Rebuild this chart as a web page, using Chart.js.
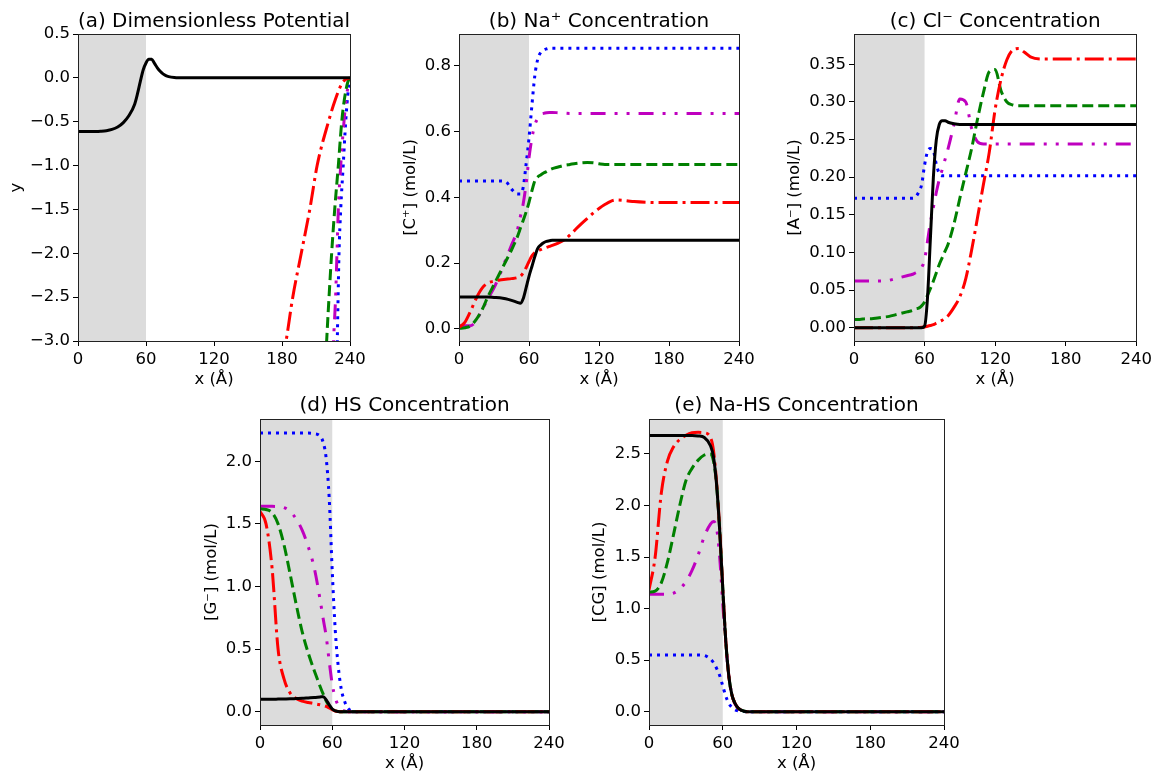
<!DOCTYPE html>
<html>
<head>
<meta charset="utf-8">
<script src="https://cdn.jsdelivr.net/npm/chart.js@4.4.1/dist/chart.umd.min.js"></script>
<style>
  html, body { margin: 0; padding: 0; background: #fff; overflow: hidden; }
  body { width: 1156px; height: 772px; position: relative; }
  canvas { position: absolute; }
</style>
</head>
<body>
<canvas id="pa"></canvas>
<canvas id="pb"></canvas>
<canvas id="pc"></canvas>
<canvas id="pd"></canvas>
<canvas id="pe"></canvas>
<script>
// shared x positions (Å)
const xGrid = [0, 5, 10, 15, 20, 25, 30, 35, 40, 45,
  50, 52.5, 55, 57.5, 60, 62.5, 65, 67.5, 70, 72.5, 75, 77.5, 80,
  85, 90, 95, 100, 105, 110, 115, 120, 125, 130, 135, 140, 145, 150,
  160, 180, 200, 220, 240];
const xTicks = [0, 60, 120, 180, 240];
const shadeRange = [0, 60];

// (a) dimensionless potential
const potBlack = [-0.612, -0.612, -0.612, -0.611, -0.608, -0.602, -0.588, -0.56, -0.51, -0.43,
  -0.3, -0.18, -0.04, 0.09, 0.17, 0.213, 0.212, 0.165, 0.115, 0.075, 0.045, 0.025, 0.014,
  0.004, 0.001, 0, 0, 0, 0, 0, 0, 0, 0, 0, 0, 0, 0,
  0, 0, 0, 0, 0];
const potRedX = [175, 183.6, 189.5, 197, 204.5, 211, 221, 227, 233, 236, 240];
const potRedY = [-3.6, -3.0, -2.5, -2.0, -1.5, -1.0, -0.5, -0.25, -0.06, -0.02, 0];
const potGreenX = [218, 219.4, 221.5, 223.8, 226.5, 229.7, 232.7, 235, 238, 240];
const potGreenY = [-3.4, -3.0, -2.5, -2.0, -1.5, -1.0, -0.5, -0.25, -0.05, 0];
const potMagX = [224.8, 225.5, 227.3, 228.5, 229.7, 231.8, 234.7, 237, 240];
const potMagY = [-3.3, -3.0, -2.5, -2.0, -1.5, -1.0, -0.5, -0.2, 0];
const potBlueX = [228.5, 228.8, 229.5, 230.3, 231.8, 234, 236.2, 238, 240];
const potBlueY = [-3.3, -3.0, -2.5, -2.0, -1.5, -1.0, -0.5, -0.2, 0];
const potTicks = [-3, -2.5, -2, -1.5, -1, -0.5, 0, 0.5];

// (b) Na+ concentration
const naBlack = [0.097, 0.097, 0.097, 0.097, 0.097, 0.097, 0.096, 0.095, 0.092, 0.087,
  0.081, 0.078, 0.092, 0.125, 0.16, 0.19, 0.22, 0.245, 0.255, 0.262, 0.266, 0.268, 0.27,
  0.27, 0.27, 0.27, 0.27, 0.27, 0.27, 0.27, 0.27, 0.27, 0.27, 0.27, 0.27, 0.27, 0.27,
  0.27, 0.27, 0.27, 0.27, 0.27];
const naRed = [0.005, 0.02, 0.055, 0.095, 0.125, 0.14, 0.145, 0.149, 0.151, 0.153,
  0.156, 0.16, 0.17, 0.186, 0.205, 0.222, 0.232, 0.238, 0.241, 0.245, 0.248, 0.251, 0.254,
  0.261, 0.27, 0.285, 0.303, 0.32, 0.336, 0.352, 0.366, 0.378, 0.388, 0.392, 0.391, 0.389, 0.387,
  0.385, 0.384, 0.384, 0.384, 0.384];
const naGreen = [0.002, 0.004, 0.01, 0.03, 0.06, 0.1, 0.135, 0.17, 0.205, 0.24,
  0.28, 0.305, 0.33, 0.355, 0.385, 0.42, 0.45, 0.462, 0.468, 0.474, 0.478, 0.483, 0.487,
  0.492, 0.497, 0.5, 0.503, 0.505, 0.506, 0.505, 0.502, 0.5, 0.5, 0.5, 0.5, 0.5, 0.5,
  0.5, 0.5, 0.5, 0.5, 0.5];
const naMag = [0.01, 0.01, 0.01, 0.027, 0.06, 0.093, 0.125, 0.165, 0.21, 0.255,
  0.3, 0.34, 0.38, 0.44, 0.52, 0.58, 0.62, 0.64, 0.652, 0.655, 0.657, 0.658, 0.658,
  0.657, 0.656, 0.655, 0.655, 0.655, 0.655, 0.655, 0.655, 0.655, 0.655, 0.655, 0.655, 0.655, 0.655,
  0.655, 0.655, 0.655, 0.655, 0.655];
const naBlue = [0.45, 0.45, 0.45, 0.45, 0.45, 0.45, 0.45, 0.45, 0.448, 0.425,
  0.41, 0.41, 0.43, 0.5, 0.58, 0.68, 0.77, 0.82, 0.84, 0.848, 0.851, 0.853, 0.853,
  0.853, 0.853, 0.853, 0.853, 0.853, 0.853, 0.853, 0.853, 0.853, 0.853, 0.853, 0.853, 0.853, 0.853,
  0.853, 0.853, 0.853, 0.853, 0.853];
const naTicks = [0, 0.2, 0.4, 0.6, 0.8];

// (c) Cl- concentration
const clBlack = [0, 0, 0, 0, 0, 0, 0, 0, 0, 0,
  0, 0, 0, 0, 0.002, 0.04, 0.12, 0.2, 0.25, 0.27, 0.275, 0.275, 0.273,
  0.271, 0.27, 0.27, 0.27, 0.27, 0.27, 0.27, 0.27, 0.27, 0.27, 0.27, 0.27, 0.27, 0.27,
  0.27, 0.27, 0.27, 0.27, 0.27];
const clRed = [0, 0, 0, 0, 0, 0, 0, 0, 0, 0,
  0, 0, 0.0003, 0.0006, 0.001, 0.002, 0.003, 0.004, 0.006, 0.008, 0.01, 0.013, 0.016,
  0.027, 0.041, 0.065, 0.103, 0.146, 0.19, 0.233, 0.29, 0.33, 0.356, 0.369, 0.371, 0.366, 0.36,
  0.357, 0.357, 0.357, 0.357, 0.357];
const clGreen = [0.011, 0.011, 0.012, 0.012, 0.013, 0.014, 0.015, 0.017, 0.019, 0.021,
  0.023, 0.025, 0.026, 0.029, 0.034, 0.043, 0.052, 0.062, 0.073, 0.084, 0.093, 0.102, 0.111,
  0.138, 0.172, 0.205, 0.238, 0.277, 0.312, 0.34, 0.343, 0.315, 0.3, 0.296, 0.295, 0.295, 0.295,
  0.295, 0.295, 0.295, 0.295, 0.295];
const clMag = [0.062, 0.062, 0.062, 0.062, 0.062, 0.062, 0.063, 0.065, 0.067, 0.069,
  0.071, 0.073, 0.075, 0.08, 0.09, 0.115, 0.14, 0.16, 0.18, 0.197, 0.21, 0.224, 0.238,
  0.27, 0.304, 0.3, 0.265, 0.247, 0.244, 0.244, 0.244, 0.244, 0.244, 0.244, 0.244, 0.244, 0.244,
  0.244, 0.244, 0.244, 0.244, 0.244];
const clBlue = [0.172, 0.172, 0.172, 0.172, 0.172, 0.172, 0.172, 0.172, 0.172, 0.172,
  0.172, 0.174, 0.18, 0.19, 0.216, 0.234, 0.238, 0.235, 0.217, 0.205, 0.202, 0.202, 0.202,
  0.202, 0.202, 0.202, 0.202, 0.202, 0.202, 0.202, 0.202, 0.202, 0.202, 0.202, 0.202, 0.202, 0.202,
  0.202, 0.202, 0.202, 0.202, 0.202];
const clTicks = [0, 0.05, 0.1, 0.15, 0.2, 0.25, 0.3, 0.35];

// (d) HS concentration
const hsBlack = [0.1, 0.1, 0.1, 0.101, 0.102, 0.103, 0.105, 0.107, 0.11, 0.113,
  0.118, 0.12, 0.095, 0.055, 0.022, 0.007, 0.002, 0, 0, 0, 0, 0, 0,
  0, 0, 0, 0, 0, 0, 0, 0, 0, 0, 0, 0, 0, 0,
  0, 0, 0, 0, 0];
const hsRed = [1.6, 1.5, 1.15, 0.5, 0.26, 0.15, 0.105, 0.085, 0.074, 0.065,
  0.055, 0.05, 0.042, 0.03, 0.017, 0.006, 0.002, 0, 0, 0, 0, 0, 0,
  0, 0, 0, 0, 0, 0, 0, 0, 0, 0, 0, 0, 0, 0,
  0, 0, 0, 0, 0];
const hsGreen = [1.62, 1.615, 1.59, 1.5, 1.33, 1.1, 0.86, 0.64, 0.47, 0.33,
  0.2, 0.14, 0.085, 0.045, 0.02, 0.007, 0.002, 0, 0, 0, 0, 0, 0,
  0, 0, 0, 0, 0, 0, 0, 0, 0, 0, 0, 0, 0, 0,
  0, 0, 0, 0, 0];
const hsMag = [1.64, 1.64, 1.64, 1.638, 1.63, 1.6, 1.54, 1.45, 1.32, 1.15,
  0.89, 0.74, 0.6, 0.4, 0.22, 0.11, 0.05, 0.02, 0.006, 0, 0, 0, 0,
  0, 0, 0, 0, 0, 0, 0, 0, 0, 0, 0, 0, 0, 0,
  0, 0, 0, 0, 0];
const hsBlue = [2.225, 2.225, 2.225, 2.225, 2.225, 2.225, 2.225, 2.225, 2.225, 2.22,
  2.2, 2.15, 2.02, 1.7, 1.12, 0.65, 0.36, 0.18, 0.09, 0.035, 0.012, 0.004, 0,
  0, 0, 0, 0, 0, 0, 0, 0, 0, 0, 0, 0, 0, 0,
  0, 0, 0, 0, 0];
const hsTicks = [0, 0.5, 1, 1.5, 2];

// (e) Na-HS concentration
const nahsBlack = [2.68, 2.68, 2.68, 2.68, 2.68, 2.68, 2.68, 2.68, 2.675, 2.66,
  2.58, 2.47, 2.2, 1.76, 1.2, 0.68, 0.34, 0.16, 0.08, 0.035, 0.015, 0.005, 0,
  0, 0, 0, 0, 0, 0, 0, 0, 0, 0, 0, 0, 0, 0,
  0, 0, 0, 0, 0];
const nahsRed = [1.18, 1.5, 2.12, 2.43, 2.57, 2.64, 2.68, 2.705, 2.71, 2.705,
  2.66, 2.53, 2.22, 1.78, 1.2, 0.68, 0.34, 0.16, 0.08, 0.035, 0.015, 0.005, 0,
  0, 0, 0, 0, 0, 0, 0, 0, 0, 0, 0, 0, 0, 0,
  0, 0, 0, 0, 0];
const nahsGreen = [1.16, 1.17, 1.25, 1.45, 1.72, 2.0, 2.24, 2.36, 2.44, 2.49,
  2.5, 2.43, 2.2, 1.76, 1.2, 0.68, 0.34, 0.16, 0.08, 0.035, 0.015, 0.005, 0,
  0, 0, 0, 0, 0, 0, 0, 0, 0, 0, 0, 0, 0, 0,
  0, 0, 0, 0, 0];
const nahsMag = [1.14, 1.14, 1.14, 1.14, 1.15, 1.19, 1.26, 1.37, 1.52, 1.7,
  1.82, 1.845, 1.78, 1.5, 1.05, 0.65, 0.34, 0.16, 0.075, 0.032, 0.013, 0.004, 0,
  0, 0, 0, 0, 0, 0, 0, 0, 0, 0, 0, 0, 0, 0,
  0, 0, 0, 0, 0];
const nahsBlue = [0.55, 0.55, 0.55, 0.55, 0.55, 0.55, 0.55, 0.55, 0.55, 0.545,
  0.51, 0.475, 0.42, 0.35, 0.25, 0.15, 0.08, 0.04, 0.018, 0.008, 0.003, 0.001, 0,
  0, 0, 0, 0, 0, 0, 0, 0, 0, 0, 0, 0, 0, 0,
  0, 0, 0, 0, 0];
const nahsTicks = [0, 0.5, 1, 1.5, 2, 2.5];

const FONT = 'DejaVu Sans';
const lineStyles = {
  black:   { color: '#000000', dash: [] },
  red:     { color: '#ff0000', dash: [19, 5, 3, 5] },
  green:   { color: '#008000', dash: [11, 5] },
  magenta: { color: '#bf00bf', dash: [15, 9, 3, 9, 3, 9] },
  blue:    { color: '#0000ff', dash: [3, 5] }
};

const panelPlugin = {
  id: 'panelDecor',
  beforeDatasetsDraw(chart) {
    const { ctx, chartArea: a, scales: { x } } = chart;
    const x0 = x.getPixelForValue(shadeRange[0]);
    const x1 = x.getPixelForValue(shadeRange[1]);
    ctx.save();
    ctx.fillStyle = '#dcdcdc';
    ctx.fillRect(x0, a.top, x1 - x0, a.bottom - a.top);
    ctx.restore();
  },
  afterDatasetsDraw(chart) {
    const { ctx, chartArea: a } = chart;
    ctx.save();
    ctx.strokeStyle = '#222';
    ctx.lineWidth = 1;
    ctx.strokeRect(Math.round(a.left) + 0.5, Math.round(a.top) + 0.5,
      Math.round(a.right - a.left), Math.round(a.bottom - a.top));
    ctx.restore();
  }
};

function series(name, xs, ys) {
  const st = lineStyles[name];
  return {
    label: name,
    data: xs.map((x, i) => ({ x: x, y: ys[i] })),
    borderColor: st.color,
    borderDash: st.dash,
    borderWidth: 3,
    pointRadius: 0,
    fill: false,
    cubicInterpolationMode: 'monotone',
    borderJoinStyle: 'round',
    clip: 0
  };
}

function drawPanel(p) {
  const c = document.getElementById(p.id);
  c.width = p.w; c.height = p.h;
  c.style.left = p.left + 'px'; c.style.top = p.top + 'px';
  const tickFont = { family: FONT, size: 16.5 };
  new Chart(c, {
    type: 'line',
    data: { datasets: p.datasets },
    options: {
      responsive: false,
      animation: false,
      layout: { padding: { left: 0, right: p.padRight, top: 0, bottom: 0 } },
      plugins: {
        legend: { display: false },
        tooltip: { enabled: false },
        title: {
          display: true, text: p.title, fullSize: false, color: '#000',
          font: { family: FONT, size: 20, weight: 'normal' },
          padding: p.titlePad
        }
      },
      scales: {
        x: {
          type: 'linear', min: 0, max: 240,
          afterBuildTicks: s => { s.ticks = xTicks.map(v => ({ value: v })); },
          afterFit: s => { s.height = p.xh; },
          grid: { drawOnChartArea: false, drawTicks: true, tickLength: 5, color: '#000' },
          border: { display: false },
          ticks: { font: tickFont, color: '#000', padding: 4, maxRotation: 0, autoSkip: false },
          title: { display: true, text: 'x (Å)', color: '#000', font: tickFont, padding: { top: 0, bottom: 0 } }
        },
        y: {
          type: 'linear', min: p.yMin, max: p.yMax,
          afterBuildTicks: s => { s.ticks = p.yTicks.map(v => ({ value: v })); },
          afterFit: s => { s.width = p.yw; },
          grid: { drawOnChartArea: false, drawTicks: true, tickLength: 5, color: '#000' },
          border: { display: false },
          ticks: {
            font: tickFont, color: '#000', padding: 3, autoSkip: false,
            callback: v => v.toFixed(p.dec).replace('-', '\u2212')
          },
          title: { display: true, text: p.yLabel, color: '#000', font: tickFont, padding: { top: 0, bottom: 0 } }
        }
      }
    },
    plugins: [panelPlugin]
  });
}

const topPad = { top: 10, bottom: 0 };
const botPad = { top: 4, bottom: 1 };

drawPanel({
  id: 'pa', left: 7, top: 0, w: 363, h: 390, yw: 71, xh: 49, padRight: 20, titlePad: topPad,
  title: '(a) Dimensionless Potential', yLabel: 'y', yMin: -3, yMax: 0.5, yTicks: potTicks, dec: 1,
  datasets: [
    series('black', xGrid, potBlack),
    series('red', potRedX, potRedY),
    series('green', potGreenX, potGreenY),
    series('magenta', potMagX, potMagY),
    series('blue', potBlueX, potBlueY)
  ]
});

drawPanel({
  id: 'pb', left: 401, top: 0, w: 358, h: 390, yw: 58, xh: 49, padRight: 20, titlePad: topPad,
  title: '(b) Na\u207A Concentration', yLabel: '[C\u207A] (mol/L)', yMin: -0.0365, yMax: 0.8963, yTicks: naTicks, dec: 1,
  datasets: [
    series('black', xGrid, naBlack),
    series('red', xGrid, naRed),
    series('green', xGrid, naGreen),
    series('magenta', xGrid, naMag),
    series('blue', xGrid, naBlue)
  ]
});

drawPanel({
  id: 'pc', left: 785, top: 0, w: 371, h: 390, yw: 69, xh: 49, padRight: 19, titlePad: topPad,
  title: '(c) Cl\u207B Concentration', yLabel: '[A\u207B] (mol/L)', yMin: -0.0177, yMax: 0.3903, yTicks: clTicks, dec: 2,
  datasets: [
    series('black', xGrid, clBlack),
    series('red', xGrid, clRed),
    series('green', xGrid, clGreen),
    series('magenta', xGrid, clMag),
    series('blue', xGrid, clBlue)
  ]
});

drawPanel({
  id: 'pd', left: 202, top: 390, w: 367, h: 384, yw: 58, xh: 49, padRight: 20, titlePad: botPad,
  title: '(d) HS Concentration', yLabel: '[G\u207B] (mol/L)', yMin: -0.106, yMax: 2.3375, yTicks: hsTicks, dec: 1,
  datasets: [
    series('black', xGrid, hsBlack),
    series('red', xGrid, hsRed),
    series('green', xGrid, hsGreen),
    series('magenta', xGrid, hsMag),
    series('blue', xGrid, hsBlue)
  ]
});

drawPanel({
  id: 'pe', left: 590, top: 390, w: 374, h: 384, yw: 59, xh: 49, padRight: 20, titlePad: botPad,
  title: '(e) Na-HS Concentration', yLabel: '[CG] (mol/L)', yMin: -0.129, yMax: 2.839, yTicks: nahsTicks, dec: 1,
  datasets: [
    series('black', xGrid, nahsBlack),
    series('red', xGrid, nahsRed),
    series('green', xGrid, nahsGreen),
    series('magenta', xGrid, nahsMag),
    series('blue', xGrid, nahsBlue)
  ]
});
</script>
</body>
</html>
